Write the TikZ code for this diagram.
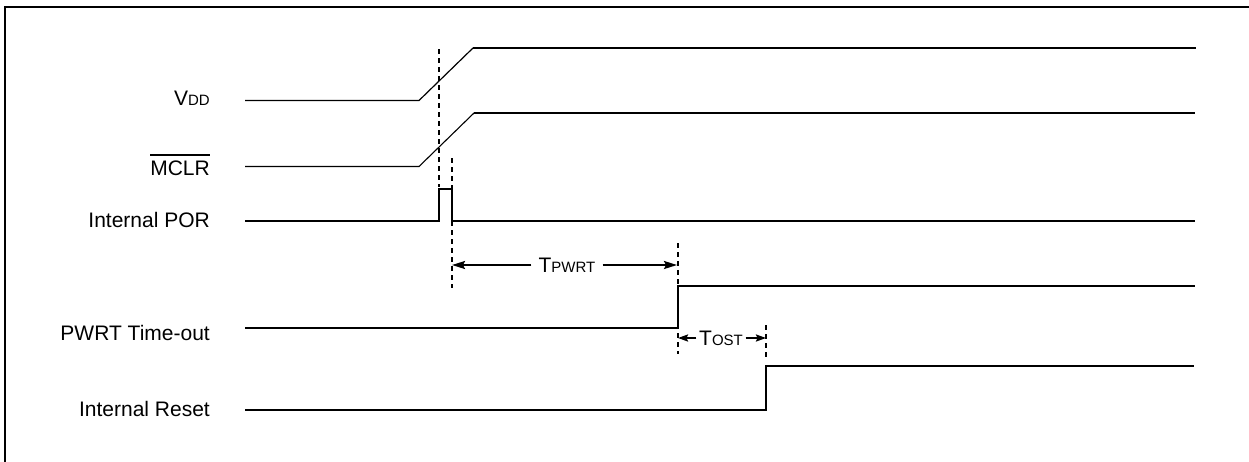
\documentclass[tikz,border=0pt]{standalone}
\usepackage{fontspec}
\setmainfont{Liberation Sans}
\usetikzlibrary{arrows.meta}
\newcommand\bigtxt{\fontsize{21}{25}\selectfont}
\newcommand\smtxt{\fontsize{15}{18}\selectfont}
\tikzset{
  sig/.style={line width=2pt, line join=miter},
  thinsig/.style={line width=1.2pt},
  marker/.style={line width=2pt, dash pattern=on 5pt off 4pt},
  lbl/.style={anchor=base east, inner sep=0pt, font=\bigtxt},
  tlbl/.style={anchor=base, inner ysep=0pt, font=\bigtxt},
  dimarrow/.style={line width=2pt, -{Stealth[length=13pt,width=8pt,inset=2pt]}},
  dimarrowsm/.style={line width=2pt, -{Stealth[length=10pt,width=7pt,inset=1.5pt]}},
  frame/.style={line width=2pt}
}
\begin{document}
\begin{tikzpicture}[x=1pt,y=-1pt]
\useasboundingbox (0,0) rectangle (1249,461);
\clip (0,0) rectangle (1249,461);
\fill[white] (0,0) rectangle (1249,461);
% frame
\draw[frame] (5,480) -- (5,7) -- (1270,7);

% labels
\node[lbl] (vdd) at (210,105) {V{\smtxt DD}};
\node[lbl] (mclr) at (210,175.7) {MCLR};
\draw[line width=1.6pt] ([yshift=6pt]mclr.north west) -- ([yshift=6pt]mclr.north east);
\node[lbl] (por) at (210,227.7) {Internal POR};
\node[lbl] (pwrt) at (210,340) {PWRT Time-out};
\node[lbl] (rst) at (210,416.7) {Internal Reset};

% VDD
\draw[thinsig] (245,100.5) -- (419,100.5) -- (473,48);
\draw[sig] (472.5,48) -- (1196,48);
% MCLR
\draw[line width=1.1pt] (245,166.5) -- (419,166.5) -- (474,113);
\draw[sig] (473.5,113) -- (1195,113);
% Internal POR
\draw[sig] (245,221) -- (439,221) -- (439,189) -- (452,189) -- (452,221) -- (1195,221);
% PWRT Time-out
\draw[sig] (245,328) -- (678,328) -- (678,286) -- (1195,286);
% Internal Reset
\draw[sig] (245,410) -- (766,410) -- (766,366) -- (1194,366);

% timing markers
\draw[marker] (439,49) -- (439,187);
\draw[marker] (452,158) -- (452,288);
\draw[marker] (678,243) -- (678,354);
\draw[marker] (766,325) -- (766,360);

% TPWRT
\coordinate (pA) at (452,265);
\coordinate (pB) at (677,265);
\node[tlbl, inner xsep=7pt] (tpwrt) at (567,272.3) {T{\smtxt PWRT}};
\draw[dimarrow] (tpwrt.west |- pA) -- (pA);
\draw[dimarrow] (tpwrt.east |- pB) -- (pB);

% TOST
\coordinate (pC) at (678,338);
\coordinate (pD) at (766,338);
\node[tlbl, inner xsep=2.5pt] (tost) at (721,345) {T{\smtxt OST}};
\draw[dimarrowsm] (tost.west |- pC) -- (pC);
\draw[dimarrowsm] (tost.east |- pD) -- (pD);
\end{tikzpicture}
\end{document}
